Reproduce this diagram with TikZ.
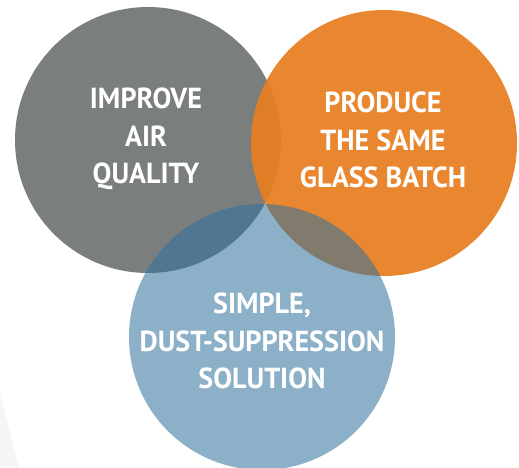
\documentclass[tikz,border=0pt]{standalone}
\usepackage{fontspec}
\setmainfont{PT Sans}
\newfontfamily\lblfont[FakeStretch=0.97]{PT Sans}
\definecolor{cgray}{RGB}{122,127,126}
\definecolor{corange}{RGB}{231,126,33}
\definecolor{cblue}{RGB}{48,114,157}
\definecolor{csliver}{RGB}{245,245,245}
\begin{document}
\begin{tikzpicture}[x=1pt,y=-1pt,
  disc/.style={circle,draw=none,inner sep=0pt,minimum size=266pt},
  lbl/.style={text=white,align=center,font=\lblfont\fontsize{29}{37.5}\selectfont\bfseries,inner sep=0pt}]
\useasboundingbox (0,0) rectangle (519,467);
\fill[csliver] (0,395) -- (19,467) -- (0,467) -- cycle;
\node[disc,fill=cgray] (g) at (148,140) {};
\node[disc,fill=corange,fill opacity=0.93] (o) at (384,143) {};
\node[disc,fill=cblue,fill opacity=0.56] (b) at (262,337) {};
\node[lbl] (gt) at (146,139) {IMPROVE\\AIR\\QUALITY};
\node[lbl] (ot) at (383,140) {PRODUCE\\THE SAME\\GLASS BATCH};
\node[lbl] (bt) at (262,341) {SIMPLE,\\DUST-SUPPRESSION\\SOLUTION};
\end{tikzpicture}
\end{document}
